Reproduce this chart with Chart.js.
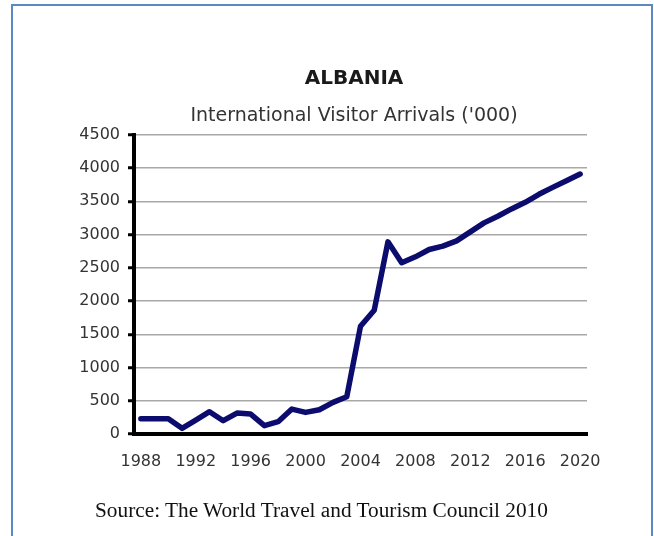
<!DOCTYPE html>
<html>
<head>
<meta charset="utf-8">
<script src="https://cdn.jsdelivr.net/npm/chart.js@4"></script>
<style>
  html, body { margin: 0; padding: 0; width: 654px; height: 536px; overflow: hidden; background: #fff; }
  #frame { position: absolute; left: 11px; top: 4px; width: 638px; height: 600px;
           border: 2px solid #5b89c4; border-bottom: none; }
  #chart { position: absolute; left: 0; top: 0; }
  #source { position: absolute; left: 95px; top: 498px; line-height: 24px;
            font-family: "Liberation Serif", serif; font-size: 21.3px; color: #111; white-space: nowrap; }
</style>
</head>
<body>
<div id="frame"></div>
<canvas id="chart" width="654" height="536"></canvas>
<div id="source">Source: The World Travel and Tourism Council 2010</div>
<script>
// years on the x axis
const years = ['1988', '1989', '1990', '1991', '1992', '1993', '1994', '1995', '1996', '1997', '1998',
  '1999', '2000', '2001', '2002', '2003', '2004', '2005', '2006', '2007', '2008', '2009',
  '2010', '2011', '2012', '2013', '2014', '2015', '2016', '2017', '2018', '2019', '2020'];

// international visitor arrivals ('000)
const arrivals = [230, 230, 230, 85, 210, 335, 200, 315, 300, 125, 185,
  375, 325, 365, 475, 560, 1620, 1860, 2890, 2575, 2665, 2775,
  2825, 2905, 3040, 3175, 3275, 3385, 3485, 3605, 3710, 3810, 3910];

const xTickLabels = ['1988', '1992', '1996', '2000', '2004', '2008', '2012', '2016', '2020'];
const yMin = 0, yMax = 4500, yStep = 500;

Chart.defaults.font.family = '"DejaVu Sans", sans-serif';

new Chart(document.getElementById('chart'), {
  type: 'line',
  data: {
    labels: years,
    datasets: [{
      label: 'Arrivals',
      data: arrivals,
      borderColor: '#0c0c6e',
      borderWidth: 5.5,
      borderCapStyle: 'round',
      borderJoinStyle: 'round',
      pointRadius: 0,
      tension: 0,
      fill: false
    }]
  },
  options: {
    responsive: false,
    animation: false,
    layout: { padding: { left: 54, right: 0, top: 0, bottom: 62 } },
    plugins: {
      legend: { display: false },
      tooltip: { enabled: false },
      title: {
        display: true,
        text: 'ALBANIA',
        color: '#1a1a1a',
        font: { size: 20, weight: 'bold' },
        padding: { top: 67, bottom: 14 }
      },
      subtitle: {
        display: true,
        text: "International Visitor Arrivals ('000)",
        color: '#333',
        font: { size: 19 },
        padding: { top: 0, bottom: 7 }
      }
    },
    scales: {
      x: {
        offset: true,
        grid: { display: false, drawTicks: false, tickLength: 0 },
        border: { display: true, color: '#000', width: 4 },
        ticks: {
          autoSkip: false,
          maxRotation: 0,
          padding: 18,
          color: '#333',
          font: { size: 16 },
          callback: function (value) {
            const lbl = this.getLabelForValue(value);
            return xTickLabels.includes(lbl) ? lbl : '';
          }
        },
        afterFit: (scale) => { scale.height = 40; }
      },
      y: {
        min: yMin,
        max: yMax,
        grid: { color: '#a8a8a8', lineWidth: 1.5, tickColor: '#000', tickWidth: 3, tickLength: 6 },
        border: { display: true, color: '#000', width: 4 },
        ticks: {
          stepSize: yStep,
          padding: 8,
          color: '#333',
          font: { size: 16 },
          callback: (v) => String(v)
        },
        afterFit: (scale) => { scale.width = 80; }
      },
      // empty right-hand axis, only keeps space to the right of the plot
      yRight: {
        position: 'right',
        min: yMin,
        max: yMax,
        grid: { display: false, drawTicks: false },
        border: { display: false },
        ticks: { display: false },
        afterFit: (scale) => { scale.width = 67; }
      }
    }
  }
});
</script>
</body>
</html>
